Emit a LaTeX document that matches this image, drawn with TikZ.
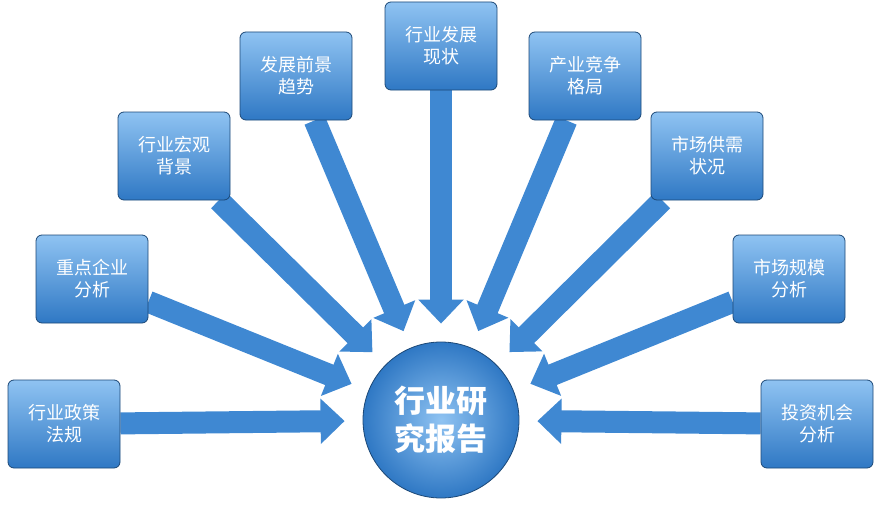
\documentclass[tikz,border=0pt]{standalone}
\usepackage{fontspec}
\setmainfont{Noto Sans CJK SC}
\usetikzlibrary{arrows.meta,backgrounds}
\definecolor{bA}{HTML}{8FC3F2}
\definecolor{bB}{HTML}{2F78C4}
\definecolor{arr}{HTML}{3F88D2}
\begin{document}
\begin{tikzpicture}[x=1pt,y=-1pt,
 box/.style={draw=bB!60!black,line width=0.8pt,rounded corners=6pt,minimum width=112pt,minimum height=88pt,
   top color=bA,bottom color=bB,text=white,font=\fontsize{18}{22}\selectfont,align=center,inner sep=2pt},
 hub/.style={circle,draw=bB!60!black,line width=0.8pt,minimum size=156pt,inner color=bA,outer color=bB,
   text=white,font=\bfseries\fontsize{31}{38}\selectfont,align=center},
 arw/.style={line width=22pt,-{Triangle[width=44pt,length=24pt]},shorten >=18pt,color=arr}]
\useasboundingbox (0,0) rectangle (881,511);
\node[hub] (c) at (441,420) {行业研\\究报告};
\node[box] (b1) at (64,424) {行业政策\\法规};
\node[box] (b2) at (92,279) {重点企业\\分析};
\node[box] (b3) at (174,156) {行业宏观\\背景};
\node[box] (b4) at (296,76) {发展前景\\趋势};
\node[box] (b5) at (441,46) {行业发展\\现状};
\node[box] (b6) at (585,76) {产业竞争\\格局};
\node[box] (b7) at (707,156) {市场供需\\状况};
\node[box] (b8) at (789,279) {市场规模\\分析};
\node[box] (b9) at (817,424) {投资机会\\分析};
\begin{scope}[on background layer]
\foreach \b in {b1,b2,b3,b4,b5,b6,b7,b8,b9}{
 \draw[arw] (\b) -- (c);
}
\end{scope}
\end{tikzpicture}
\end{document}
